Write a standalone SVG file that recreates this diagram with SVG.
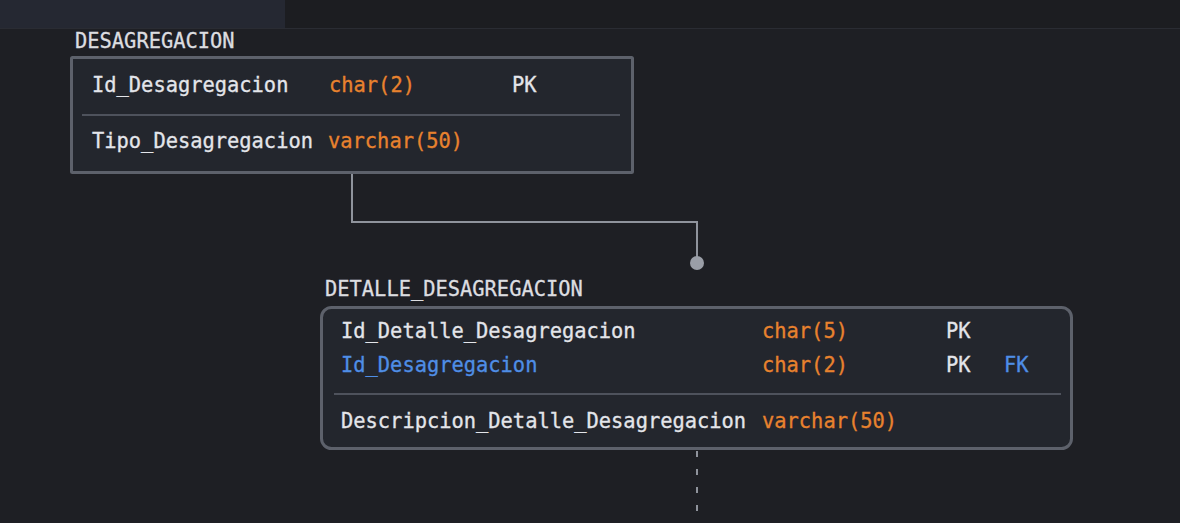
<svg xmlns="http://www.w3.org/2000/svg" width="1180" height="523" viewBox="0 0 1180 523">
<style>
  .t{font-family:"DejaVu Sans Mono","Liberation Mono",monospace;font-size:20.4px;stroke-width:0.3px;}
  .n{fill:#e3e5ea;stroke:#e3e5ea;}
  .ty{fill:#e8822e;stroke:#e8822e;}
  .fk{fill:#4f8ee6;stroke:#4f8ee6;}
  .ttl{fill:#dcdde0;stroke:#dcdde0;}
  .box{fill:#23262d;stroke:#5d616b;stroke-width:3;}
  .div{stroke:#4e525c;stroke-width:2;}
  .conn{fill:none;stroke:#8f939c;stroke-width:2;}
</style>
<rect x="0" y="0" width="1180" height="523" fill="#1e1f24"/>
<rect x="0" y="0" width="1180" height="28" fill="#1c1d21"/>
<rect x="0" y="0" width="285" height="28" fill="#252832"/>
<line x1="0" y1="28.5" x2="1180" y2="28.5" stroke="#2a2c33" stroke-width="1"/>

<g id="connectors">
  <path class="conn" d="M352 174 V222 H697 V262"/>
  <circle cx="697" cy="263" r="7" fill="#9a9ea7"/>
  <line x1="697" y1="451" x2="697" y2="523" stroke="#8f939c" stroke-width="2" stroke-dasharray="6 12"/>
</g>

<g id="DESAGREGACION">
  <text class="t ttl" x="75" y="48">DESAGREGACION</text>
  <rect class="box" x="71.5" y="57.5" width="561" height="115" rx="1"/>
  <text class="t n" x="92" y="92">Id_Desagregacion</text>
  <text class="t ty" x="329" y="92">char(2)</text>
  <text class="t n" x="512" y="92">PK</text>
  <line class="div" x1="82" y1="115" x2="620" y2="115"/>
  <text class="t n" x="92" y="148">Tipo_Desagregacion</text>
  <text class="t ty" x="328" y="148">varchar(50)</text>
</g>

<g id="DETALLE_DESAGREGACION">
  <text class="t ttl" x="325" y="296">DETALLE_DESAGREGACION</text>
  <rect class="box" x="321.5" y="307.5" width="750" height="141" rx="10"/>
  <text class="t n" x="341" y="338">Id_Detalle_Desagregacion</text>
  <text class="t ty" x="762" y="338">char(5)</text>
  <text class="t n" x="946" y="338">PK</text>
  <text class="t fk" x="341" y="372">Id_Desagregacion</text>
  <text class="t ty" x="762" y="372">char(2)</text>
  <text class="t n" x="946" y="372">PK</text>
  <text class="t fk" x="1004" y="372">FK</text>
  <line class="div" x1="334" y1="394" x2="1061" y2="394"/>
  <text class="t n" x="341" y="428">Descripcion_Detalle_Desagregacion</text>
  <text class="t ty" x="762" y="428">varchar(50)</text>
</g>
</svg>
